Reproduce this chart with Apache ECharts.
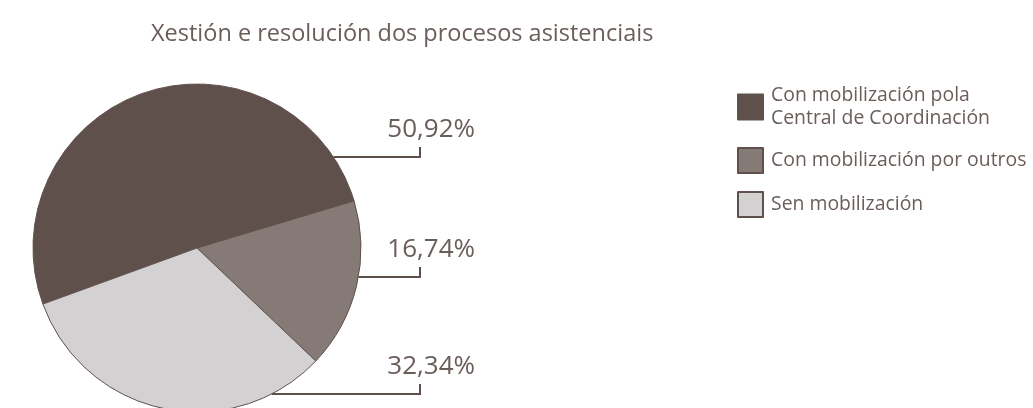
<!DOCTYPE html>
<html>
<head>
<meta charset="utf-8">
<script src="https://cdn.jsdelivr.net/npm/echarts@6/dist/echarts.min.js"></script>
<style>
    html, body { margin: 0; padding: 0; background: #fff; }
    #chart { width: 1033px; height: 408px; }
</style>
</head>
<body>
<div id="chart"></div>
<script>
const categories = ['Con mobilización pola\nCentral de Coordinación', 'Con mobilización por outros', 'Sen mobilización'];
const values = [50.92, 16.74, 32.34];
const titleText = 'Xestión e resolución dos procesos asistenciais';

document.addEventListener('DOMContentLoaded', function () {
    const chart = echarts.init(document.getElementById('chart'));

    const textColor = '#6a5d5a';
    const lineColor = '#5f504c';
    const fontFamily = '"Open Sans", sans-serif';

    // pie geometry and where the leader lines sit
    const cx = 197, cy = 248, r = 164;
    const tickX = 420, labelRight = 475;
    const lineOffsets = [-91, 29, 146];

    function formatPct(v) {
        return v.toFixed(2).replace('.', ',') + '%';
    }

    const option = {
        animation: false,
        title: {
            text: titleText,
            left: 146,
            top: 17,
            textStyle: {
                fontFamily: fontFamily,
                fontSize: 23.5,
                fontWeight: 'normal',
                color: textColor
            }
        },
        legend: {
            orient: 'vertical',
            left: 732,
            top: 79,
            icon: 'rect',
            itemWidth: 25,
            itemHeight: 25,
            itemGap: 17,
            selectedMode: false,
            textStyle: {
                fontFamily: fontFamily,
                fontSize: 19.4,
                lineHeight: 23,
                color: textColor,
                padding: [0, 0, 0, 3]
            }
        },
        series: [
            {
                type: 'pie',
                center: [cx, cy],
                radius: r,
                startAngle: 200,
                silent: true,
                avoidLabelOverlap: false,
                color: ['#5f504c', '#857a76', '#d3d1d2'],
                itemStyle: {
                    borderColor: lineColor,
                    borderWidth: 1
                },
                label: {
                    show: true,
                    position: 'outside',
                    fontFamily: fontFamily,
                    fontSize: 26,
                    color: textColor,
                    formatter: p => formatPct(p.value)
                },
                labelLine: {
                    show: true,
                    lineStyle: { color: lineColor, width: 2 }
                },
                labelLayout: function (params) {
                    const dy = lineOffsets[params.dataIndex];
                    const y = cy + dy;
                    const edgeX = cx + Math.sqrt(r * r - dy * dy);
                    return {
                        x: labelRight,
                        y: y - 27,
                        align: 'right',
                        verticalAlign: 'middle',
                        labelLinePoints: [[edgeX, y], [tickX, y], [tickX, y - 10]]
                    };
                },
                data: categories.map((name, i) => ({ name: name, value: values[i] }))
            }
        ]
    };

    chart.setOption(option);
});
</script>
</body>
</html>
